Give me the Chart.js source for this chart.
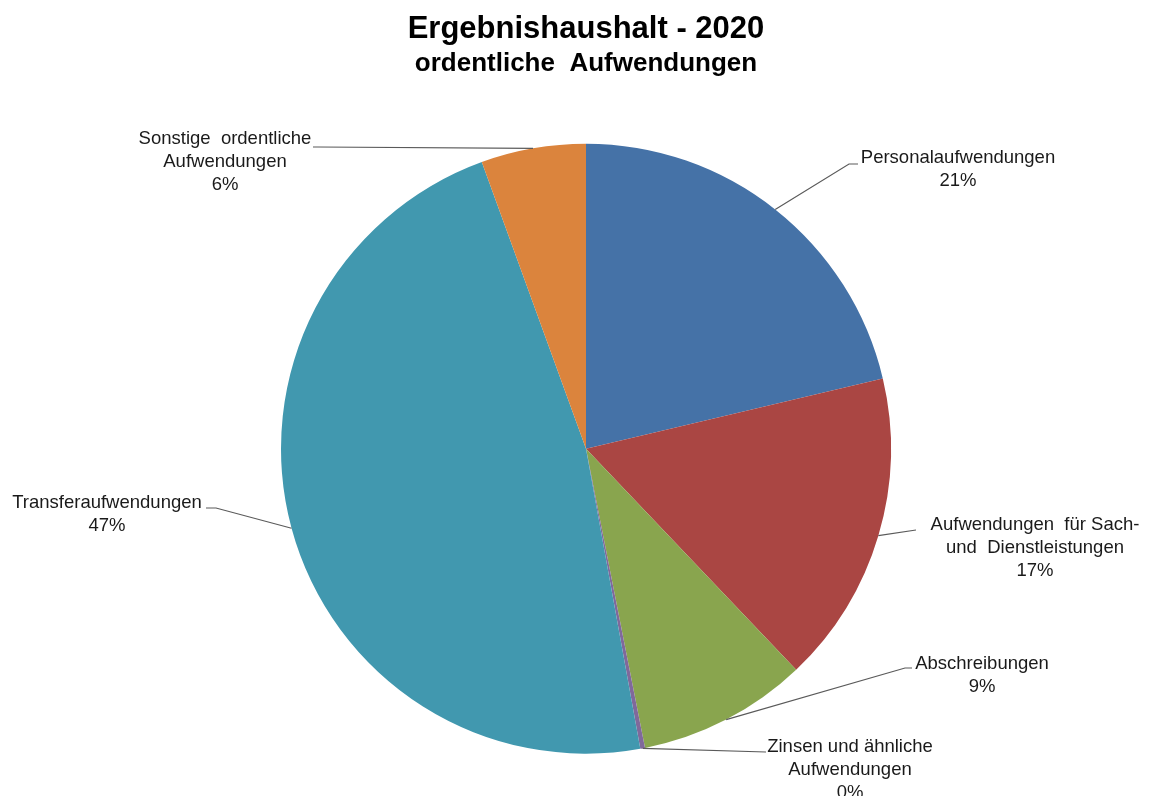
<!DOCTYPE html>
<html>
<head>
<meta charset="utf-8">
<script src="https://cdn.jsdelivr.net/npm/chart.js@4"></script>
<style>
  html, body { margin: 0; padding: 0; background: #fff; }
  #wrap { width: 1152px; height: 796px; position: relative; }
</style>
</head>
<body>
<div id="wrap"><canvas id="pieChart"></canvas></div>
<script>
// --- Daten ---
const categories = [
    ['Personalaufwendungen'],
    ['Aufwendungen  für Sach-', 'und  Dienstleistungen'],
    ['Abschreibungen'],
    ['Zinsen und ähnliche', 'Aufwendungen'],
    ['Transferaufwendungen'],
    ['Sonstige  ordentliche', 'Aufwendungen']
];
const values = [21.3, 16.6, 9.0, 0.25, 47.3, 5.55];
const colors = ['#4572A7', '#AA4643', '#89A54E', '#80699B', '#4198AF', '#DB843D'];

// Beschriftungs-Positionen: Textmitte x, erste Zeile y, Knickpunkt der Linie, Ende horizontal
const labelPos = [
    { tx: 958, ty: 158, ex: 849, ey: 164, hx: 858 },
    { tx: 1035, ty: 525, ex: 916, ey: 530, hx: null },
    { tx: 982, ty: 664, ex: 905, ey: 668, hx: 912 },
    { tx: 850, ty: 747, ex: 766, ey: 752, hx: null },
    { tx: 107, ty: 503, ex: 216, ey: 508, hx: 206 },
    { tx: 225, ty: 139, ex: 318, ey: 147, hx: 313 }
];

// --- Plugin: Beschriftungen mit Führungslinien ---
const leaderLabels = {
    id: 'leaderLabels',
    afterDatasetsDraw(chart) {
        const ctx = chart.ctx;
        const meta = chart.getDatasetMeta(0);
        const total = values.reduce((a, b) => a + b, 0);
        ctx.save();
        meta.data.forEach((arc, i) => {
            const p = labelPos[i];
            const mid = (arc.startAngle + arc.endAngle) / 2;
            const sx = arc.x + Math.cos(mid) * arc.outerRadius;
            const sy = arc.y + Math.sin(mid) * arc.outerRadius;
            ctx.strokeStyle = '#5a5a5a';
            ctx.lineWidth = 1.2;
            ctx.beginPath();
            ctx.moveTo(sx, sy);
            ctx.lineTo(p.ex, p.ey);
            if (p.hx !== null) ctx.lineTo(p.hx, p.ey);
            ctx.stroke();

            const lines = categories[i].concat([Math.round(values[i] / total * 100) + '%']);
            ctx.fillStyle = '#1a1a1a';
            ctx.font = '18.5px "Liberation Sans", Arial, sans-serif';
            ctx.textAlign = 'center';
            ctx.textBaseline = 'middle';
            lines.forEach((t, k) => ctx.fillText(t, p.tx, p.ty + k * 23));
        });
        ctx.restore();
    }
};

new Chart(document.getElementById('pieChart'), {
    type: 'pie',
    data: {
        labels: categories,
        datasets: [{
            data: values,
            backgroundColor: colors,
            borderWidth: 0
        }]
    },
    options: {
        responsive: true,
        maintainAspectRatio: false,
        animation: false,
        layout: { padding: { top: 0, bottom: 42, left: 281, right: 261 } },
        plugins: {
            legend: { display: false },
            tooltip: { enabled: false },
            title: {
                display: true,
                text: 'Ergebnishaushalt - 2020',
                color: '#000',
                font: { family: '"Liberation Sans", Arial, sans-serif', size: 31, weight: 'bold', lineHeight: 1.2 },
                padding: { top: 11, bottom: 0 }
            },
            subtitle: {
                display: true,
                text: 'ordentliche  Aufwendungen',
                color: '#000',
                font: { family: '"Liberation Sans", Arial, sans-serif', size: 26, weight: 'bold', lineHeight: 1.2 },
                padding: { top: 0, bottom: 64 }
            }
        }
    },
    plugins: [leaderLabels]
});
</script>
</body>
</html>
